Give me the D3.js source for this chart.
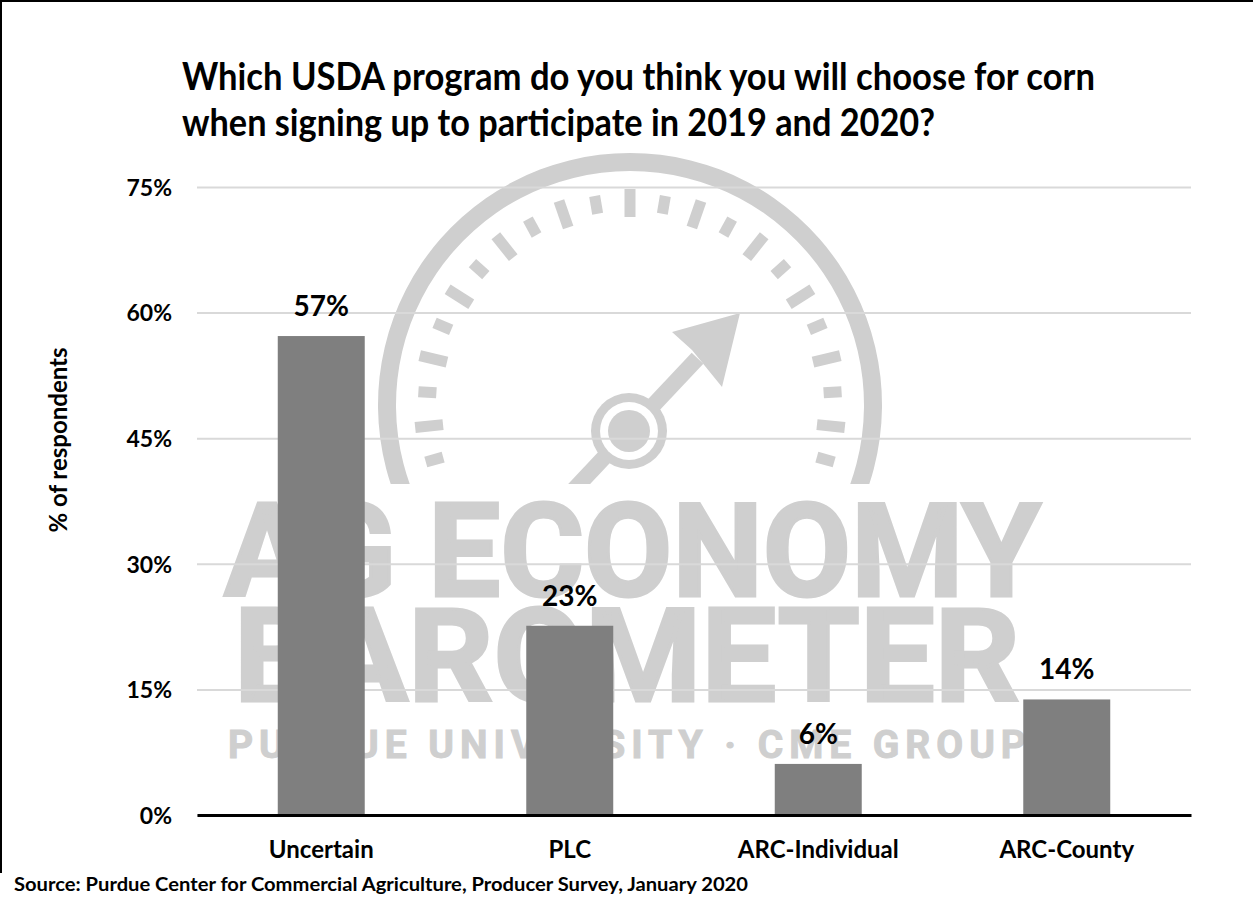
<!DOCTYPE html>
<html>
<head>
<meta charset="utf-8">
<script src="https://cdn.jsdelivr.net/npm/d3@7"></script>
<style>
  body { margin: 0; background: #fff; }
  svg { display: block; }
  text { font-family: Lato, "Open Sans", sans-serif; font-weight: bold; }
</style>
</head>
<body>
<svg id="chart"></svg>
<script>
// chart data
const categories = ["Uncertain", "PLC", "ARC-Individual", "ARC-County"];
const values = [57.2, 22.6, 6.1, 13.8];
const valueLabels = ["57%", "23%", "6%", "14%"];
const yTicks = [0, 15, 30, 45, 60, 75];
const titleLines = [
  "Which USDA program do you think you will choose for corn",
  "when signing up to participate in 2019 and 2020?"
];
const yAxisTitle = "% of respondents";
const sourceNote = "Source: Purdue Center for Commercial Agriculture, Producer Survey, January 2020";
const watermarkLines = ["AG ECONOMY", "BAROMETER", "PURDUE UNIVERSITY \u00B7 CME GROUP"];

const W = 1253, H = 903;
const margin = {top: 187, right: 62, bottom: 88, left: 197};
const width = W - margin.left - margin.right;
const height = H - margin.top - margin.bottom;

const svg = d3.select("#chart").attr("width", W).attr("height", H);

// scale text so it takes a given width
function fitWidth(sel, w) {
  const cur = sel.node().getComputedTextLength();
  const fs = parseFloat(sel.attr("font-size"));
  sel.attr("font-size", fs * w / cur);
  return fs * w / cur;
}

// frame (left and top only)
svg.append("line").attr("x1", 1).attr("x2", 1).attr("y1", 0).attr("y2", 873)
  .attr("stroke", "#000").attr("stroke-width", 2);
svg.append("line").attr("x1", 0).attr("x2", W).attr("y1", 1).attr("y2", 1)
  .attr("stroke", "#000").attr("stroke-width", 2);

// ---- watermark (logo behind the plot) ----
const wmColor = "#cfcfcf";
const wm = svg.append("g").attr("fill", wmColor);
svg.append("clipPath").attr("id", "gaugeClip")
  .append("rect").attr("x", 0).attr("y", 0).attr("width", W).attr("height", 484);
const gauge = wm.append("g").attr("clip-path", "url(#gaugeClip)");
const cx = 630, cy = 405;
gauge.append("path")
  .attr("transform", `translate(${cx},${cy})`)
  .attr("d", d3.arc().innerRadius(234).outerRadius(252)
    .startAngle(-Math.PI * 0.62).endAngle(Math.PI * 0.62)());
// tick marks around the dial
d3.range(-11, 12).forEach(i => {
  const a = i * 9.6;
  const long = i % 2 === 0;
  const r0 = long ? 188 : 194, r1 = long ? 216 : 212;
  gauge.append("rect")
    .attr("x", -5.5).attr("y", -r1).attr("width", 11).attr("height", r1 - r0)
    .attr("transform", `translate(${cx},${cy}) rotate(${a})`);
});
// needle
const px = 629, py = 431;
const ang = Math.atan2(313 - py, 740 - px);
const ux = Math.cos(ang), uy = Math.sin(ang);
gauge.append("line")
  .attr("x1", px - ux * 110).attr("y1", py - uy * 110)
  .attr("x2", px + ux * 100).attr("y2", py + uy * 100)
  .attr("stroke", wmColor).attr("stroke-width", 16);
gauge.append("path").attr("d", "M740,313 L672,332 L692,350 L722,387 Z");
gauge.append("circle").attr("cx", px).attr("cy", py).attr("r", 38);
gauge.append("circle").attr("cx", px).attr("cy", py).attr("r", 29).attr("fill", "#fff");
gauge.append("circle").attr("cx", px).attr("cy", py).attr("r", 21);

function wmText(txt, xPos, yPos, size, len, adjust, sw) {
  return wm.append("text").attr("x", xPos).attr("y", yPos)
    .style("font-family", "Roboto, sans-serif").style("font-weight", "bold")
    .attr("font-size", size)
    .attr("textLength", len).attr("lengthAdjust", adjust)
    .attr("stroke", wmColor).attr("stroke-width", sw)
    .text(txt);
}
wmText(watermarkLines[0], 224, 596, 130, 817, "spacingAndGlyphs", 3);
wmText(watermarkLines[1], 234, 701, 130, 786, "spacingAndGlyphs", 3);
wmText(watermarkLines[2], 228, 758, 39, 798, "spacing", 1);

// ---- chart ----
const g = svg.append("g").attr("transform", `translate(${margin.left},${margin.top})`);

const x = d3.scaleBand().domain(categories).range([0, width])
  .paddingInner(0.65).paddingOuter(0.325);
const y = d3.scaleLinear().domain([0, 75]).range([height, 0]);

const yAxis = g.append("g")
  .call(d3.axisLeft(y).tickValues(yTicks).tickSize(-width).tickFormat(d => d + "%"));
yAxis.select(".domain").remove();
yAxis.selectAll(".tick line").attr("stroke", "#d9d9d9").attr("stroke-width", 2);
yAxis.selectAll(".tick text").attr("x", -25).attr("dy", "0.36em")
  .attr("font-size", 23).attr("fill", "#000").style("font-family", null);

g.selectAll("rect.bar").data(values).enter().append("rect")
  .attr("class", "bar")
  .attr("x", (d, i) => x(categories[i]))
  .attr("y", d => y(d))
  .attr("width", x.bandwidth())
  .attr("height", d => height - y(d))
  .attr("fill", "#7f7f7f");

g.selectAll("text.val").data(values).enter().append("text")
  .attr("class", "val")
  .attr("x", (d, i) => x(categories[i]) + x.bandwidth() / 2)
  .attr("y", d => y(d) - 20)
  .attr("text-anchor", "middle").attr("font-size", 28)
  .text((d, i) => valueLabels[i]);

const xAxis = g.append("g").attr("transform", `translate(0,${height})`)
  .call(d3.axisBottom(x).tickSize(0).tickPadding(0));
xAxis.select(".domain").attr("stroke", "#000").attr("stroke-width", 3);
xAxis.selectAll(".tick text").attr("y", 43).attr("dy", 0)
  .attr("font-size", 24).attr("fill", "#000").style("font-family", null);

// y axis title
svg.append("text")
  .attr("transform", "translate(67,440) rotate(-90)")
  .attr("text-anchor", "middle").attr("font-size", 24)
  .text(yAxisTitle);

// title, squeezed to the narrower original face
svg.append("text").attr("x", 182).attr("y", 90).attr("font-size", 38)
  .attr("textLength", 913).attr("lengthAdjust", "spacingAndGlyphs").text(titleLines[0]);
svg.append("text").attr("x", 182).attr("y", 136).attr("font-size", 38)
  .attr("textLength", 753).attr("lengthAdjust", "spacingAndGlyphs").text(titleLines[1]);

// source
svg.append("text").attr("x", 14).attr("y", 891).attr("font-size", 19)
  .attr("textLength", 734).attr("lengthAdjust", "spacingAndGlyphs").text(sourceNote);
</script>
</body>
</html>
